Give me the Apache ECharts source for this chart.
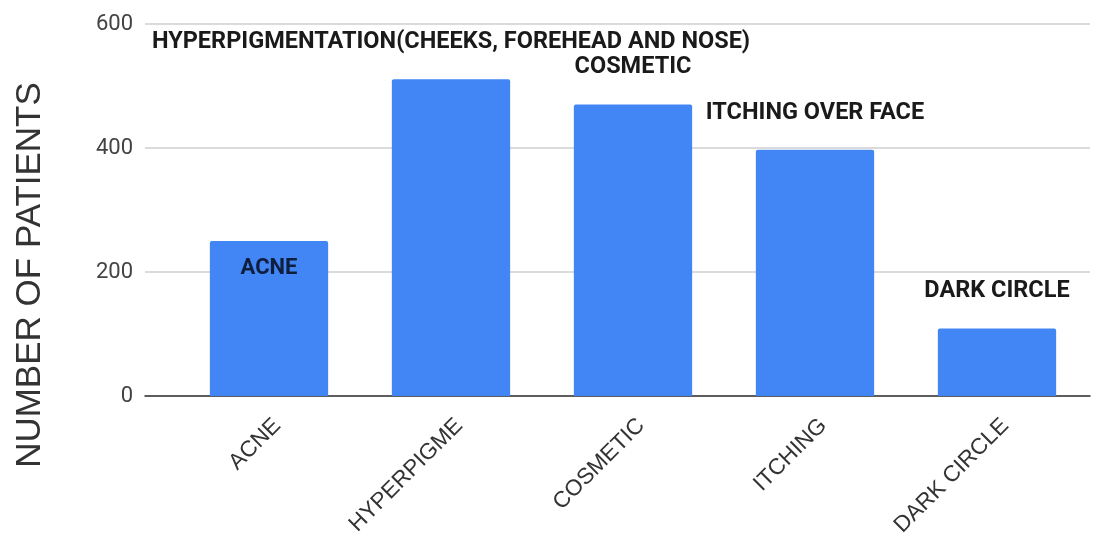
<!DOCTYPE html>
<html>
<head>
<meta charset="utf-8">
<script src="https://cdn.jsdelivr.net/npm/echarts@6/dist/echarts.min.js"></script>
<style>
  html, body { margin: 0; padding: 0; background: #fff; }
  #chart { width: 1110px; height: 543px; }
</style>
</head>
<body>
<div id="chart"></div>
<script>
// Complaint categories (axis labels) and the longer names shown above each bar
const categories = ['ACNE', 'HYPERPIGME', 'COSMETIC', 'ITCHING', 'DARK CIRCLE'];
const barNames = [
  'ACNE',
  'HYPERPIGMENTATION(CHEEKS, FOREHEAD AND NOSE)',
  'COSMETIC',
  'ITCHING OVER FACE',
  'DARK CIRCLE'
];
// Number of patients per category
const patients = [250, 511, 470, 397, 109];
// Value axis range
const yMin = 0;
const yMax = 600;
const yStep = 200;

const chart = echarts.init(document.getElementById('chart'));

const labelFont = {
  fontFamily: 'Roboto, "Liberation Sans", sans-serif',
  fontWeight: 'bold',
  fontSize: 23.5,
  color: '#1a1a1a'
};

const barData = patients.map((v, i) => {
  const item = { value: v, name: barNames[i] };
  if (i === 0) {
    item.label = { position: 'insideTop', distance: 16, offset: [0, 0], color: '#0f1e3c', fontSize: 22 };
  }
  return item;
});

chart.setOption({
  animation: false,
  backgroundColor: '#ffffff',
  grid: [
    { left: 145, right: 20, top: 24, bottom: 147 },
    { left: 178, right: 22, top: 24, bottom: 147 }
  ],
  xAxis: [
    {
      gridIndex: 0,
      type: 'value',
      min: 0,
      max: 1,
      show: true,
      axisLine: { show: true, onZero: true, lineStyle: { color: '#333', width: 1.5 } },
      axisTick: { show: false },
      axisLabel: { show: false },
      splitLine: { show: false }
    },
    {
      gridIndex: 1,
      type: 'category',
      data: categories,
      axisLine: { show: false },
      axisTick: { show: false },
      axisLabel: {
        rotate: 45,
        margin: 18,
        verticalAlign: 'top',
        fontFamily: '"Liberation Sans", Arial, sans-serif',
        fontSize: 22.5,
        color: '#333'
      }
    }
  ],
  yAxis: [
    {
      gridIndex: 0,
      type: 'value',
      min: yMin,
      max: yMax,
      interval: yStep,
      axisLine: { show: false },
      axisTick: { show: false },
      axisLabel: {
        margin: 12,
        fontFamily: 'Roboto, "Liberation Sans", sans-serif',
        fontSize: 22,
        color: '#444'
      },
      splitLine: { show: true, lineStyle: { color: '#cfcfcf', width: 1.5 } }
    },
    {
      gridIndex: 1,
      type: 'value',
      min: yMin,
      max: yMax,
      interval: yStep,
      show: false,
      splitLine: { show: false }
    }
  ],
  graphic: [
    {
      type: 'text',
      x: 30,
      y: 275,
      rotation: Math.PI / 2,
      style: {
        text: 'NUMBER OF PATIENTS',
        fill: '#333',
        font: '35px "Liberation Sans", Arial, sans-serif',
        textAlign: 'center',
        textVerticalAlign: 'middle'
      }
    }
  ],
  series: [
    {
      type: 'bar',
      xAxisIndex: 1,
      yAxisIndex: 1,
      data: barData,
      barCategoryGap: '35%',
      itemStyle: { color: '#4285F4', borderRadius: [2, 2, 0, 0] },
      label: Object.assign({
        show: true,
        position: 'top',
        distance: 5,
        offset: [0, -20],
        formatter: p => p.name
      }, labelFont)
    }
  ]
});
</script>
</body>
</html>
